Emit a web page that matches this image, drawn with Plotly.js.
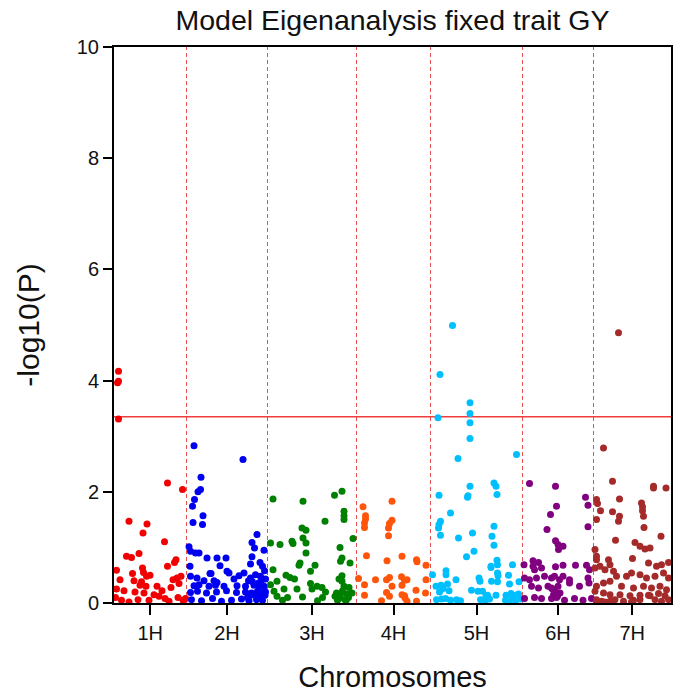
<!DOCTYPE html>
<html>
<head>
<meta charset="utf-8">
<script src="https://cdn.plot.ly/plotly-3.0.1.min.js"></script>
<style>body{margin:0;background:#fff}#plot{width:680px;height:698px}</style>
</head>
<body>
<div id="plot"></div>
<script>
// chromosome names, lengths (cM) and colours
var chromNames = ['1H', '2H', '3H', '4H', '5H', '6H', '7H'];
var chromLen = [145, 162, 178, 148, 184, 142, 155];
var chromColors = ['rgb(240,0,0)', 'rgb(0,0,240)', 'rgb(0,128,0)', 'rgb(255,85,10)',
                   'rgb(0,191,255)', 'rgb(128,0,128)', 'rgb(165,42,42)'];
var threshold = 3.35;

// marker positions (cM within chromosome) and -log10(P)
var pos1H = [9,9,7,9,107,137,30,66,58,101,25,35,50,124,121,107,57,5,37,59,72,65,12,40,55,118,126,134,52,64,114,130,20,5,42,60,80,90,102,128,138,143,15,30,70,110,3,48,86,96];
var lp1H = [4.17,3.99,3.96,3.31,2.16,2.04,1.47,1.42,1.26,1.10,0.84,0.82,0.89,0.78,0.73,0.66,0.63,0.59,0.53,0.55,0.50,0.48,0.42,0.40,0.38,0.42,0.45,0.48,0.32,0.30,0.28,0.35,0.22,0.25,0.20,0.18,0.15,0.12,0.08,0.10,0.05,0.08,0.05,0.02,0.05,0.03,0.10,0.06,0.30,0.22];

var pos2H = [15,113,29,28,23,16,12,33,13,32,141,131,5,8,136,18,25,155,131,41,61,79,7,67,81,85,49,47,128,147,152,21,8,35,55,61,95,105,115,128,138,148,158,15,25,45,58,75,101,118,135,145,155,8,22,40,60,80,100,118,130,142,150,158,10,30,52,70,90,110,125,140,152,122,128,134,140,146,152,157,124,132,144,150,156];
var lp2H = [2.83,2.58,2.26,2.04,2.00,1.86,1.74,1.57,1.45,1.41,1.23,1.09,1.01,0.93,0.99,0.90,0.90,0.95,0.83,0.81,0.81,0.81,0.66,0.67,0.57,0.54,0.53,0.53,0.70,0.73,0.66,0.45,0.48,0.40,0.40,0.37,0.43,0.49,0.54,0.45,0.51,0.48,0.43,0.31,0.33,0.30,0.32,0.30,0.31,0.30,0.32,0.31,0.30,0.19,0.21,0.18,0.20,0.22,0.19,0.20,0.18,0.21,0.19,0.20,0.06,0.04,0.08,0.03,0.05,0.07,0.04,0.06,0.05,0.10,0.14,0.16,0.12,0.15,0.18,0.14,0.40,0.38,0.36,0.41,0.58];

var pos3H = [149,134,11,71,153,153,153,115,69,77,6,25,49,51,71,77,171,145,77,149,146,165,65,63,95,11,86,37,45,54,149,143,19,6,86,99,109,149,153,163,59,33,13,89,116,138,159,169,19,40,70,110,135,162,143,155,140,146,150,157,30,100];
var lp3H = [2.01,1.94,1.87,1.83,1.65,1.57,1.50,1.47,1.35,1.31,1.08,1.05,1.11,1.07,1.17,1.08,1.16,1.00,0.90,0.81,0.75,0.72,0.72,0.68,0.68,0.60,0.57,0.50,0.46,0.43,0.49,0.43,0.39,0.33,0.35,0.30,0.28,0.39,0.30,0.28,0.25,0.25,0.21,0.25,0.20,0.18,0.16,0.18,0.12,0.10,0.11,0.10,0.12,0.10,0.08,0.06,0.05,0.15,0.22,0.04,0.05,0.04];

var pos4H = [71,13,18,18,16,16,71,66,64,64,20,91,61,120,121,139,4,38,60,66,90,96,101,139,16,16,71,91,119,138,60,66,91,96,97,101,120,50];
var lp4H = [1.83,1.73,1.57,1.51,1.44,1.36,1.49,1.43,1.35,1.21,0.85,0.84,0.76,0.78,0.74,0.68,0.44,0.42,0.42,0.46,0.47,0.41,0.42,0.42,0.33,0.14,0.30,0.32,0.23,0.18,0.19,0.12,0.15,0.13,0.09,0.03,0.03,0.04];

var pos5H = [44,19,79,79,15,79,79,172,55,79,127,131,133,17,74,75,40,20,17,16,20,127,56,84,123,127,87,72,133,134,121,121,164,31,31,134,135,4,156,51,97,99,122,134,177,11,21,34,25,37,18,158,82,95,104,114,111,131,151,161,170,176,12,22,30,40,52,60,100,110,118,150,160,170,180];
var lp5H = [4.99,4.11,3.60,3.41,3.33,3.24,2.96,2.67,2.60,2.10,2.16,2.10,1.95,1.94,1.90,1.93,1.62,1.47,1.41,1.35,1.22,1.38,1.17,1.26,1.20,1.04,0.93,0.83,0.77,0.69,0.66,0.64,0.69,0.58,0.51,0.54,0.49,0.51,0.50,0.42,0.45,0.39,0.39,0.38,0.38,0.30,0.32,0.34,0.26,0.22,0.20,0.34,0.23,0.21,0.21,0.14,0.12,0.14,0.14,0.17,0.14,0.16,0.06,0.07,0.08,0.05,0.06,0.04,0.06,0.05,0.07,0.05,0.06,0.04,0.07];

var pos6H = [14,66,126,131,68,56,49,131,66,71,72,81,3,21,32,21,38,24,66,81,106,128,134,4,14,28,44,58,64,74,81,94,131,18,32,51,58,71,94,114,133,4,24,38,58,68,84,104,121,138,62,66,70,75,60];
var lp6H = [2.15,2.10,1.90,1.76,1.74,1.59,1.32,1.37,1.12,1.05,0.96,1.02,0.69,0.76,0.73,0.66,0.63,0.60,0.65,0.68,0.68,0.68,0.60,0.45,0.42,0.45,0.48,0.45,0.48,0.42,0.48,0.42,0.45,0.30,0.27,0.30,0.27,0.30,0.36,0.30,0.36,0.08,0.10,0.08,0.08,0.10,0.05,0.08,0.05,0.08,0.15,0.20,0.12,0.18,0.25];

var pos7H = [50,20,38,120,120,145,52,6,8,14,6,96,98,98,100,101,38,52,50,135,44,83,93,103,113,3,6,6,78,110,126,136,150,30,33,23,40,3,13,66,76,93,106,123,140,150,46,33,20,6,56,80,100,116,133,146,3,20,33,53,73,93,113,130,143,6,16,33,43,60,80,93,110,123,136,150,6,23,76];
var lp7H = [4.86,2.79,2.19,2.10,2.07,2.07,1.87,1.86,1.79,1.66,1.50,1.80,1.73,1.66,1.56,1.36,1.64,1.56,1.47,1.20,1.13,1.09,1.02,0.97,0.99,0.96,0.84,0.78,0.80,0.72,0.66,0.69,0.73,0.78,0.69,0.60,0.57,0.63,0.66,0.48,0.54,0.51,0.45,0.48,0.54,0.45,0.48,0.39,0.36,0.30,0.30,0.27,0.30,0.27,0.30,0.24,0.21,0.18,0.15,0.15,0.13,0.14,0.13,0.17,0.13,0.06,0.03,0.03,0.06,0.03,0.05,0.06,0.14,0.06,0.03,0.06,0.02,0.02,0.02];

var allPos = [pos1H, pos2H, pos3H, pos4H, pos5H, pos6H, pos7H];
var allLp = [lp1H, lp2H, lp3H, lp4H, lp5H, lp6H, lp7H];

// cumulative offsets
var offsets = [];
var total = 0;
for (var i = 0; i < chromLen.length; i++) {
  offsets.push(total);
  total += chromLen[i];
}
var mids = offsets.map(function(o, i) { return o + chromLen[i] / 2; });

var traces = chromNames.map(function(name, i) {
  return {
    type: 'scatter',
    mode: 'markers',
    name: name,
    x: allPos[i].map(function(p) { return p + offsets[i]; }),
    y: allLp[i],
    marker: {color: chromColors[i], size: 7},
    hoverinfo: 'x+y'
  };
});

var shapes = [];
for (var j = 1; j < offsets.length; j++) {
  shapes.push({
    type: 'line', xref: 'x', yref: 'paper',
    x0: offsets[j], x1: offsets[j], y0: 0, y1: 1,
    line: {color: 'rgb(230,80,80)', width: 1, dash: '4px,3px'},
    layer: 'below'
  });
}
shapes.push({
  type: 'line', xref: 'paper', yref: 'y',
  x0: 0, x1: 1, y0: threshold, y1: threshold,
  line: {color: 'rgb(240,60,60)', width: 1.3},
  layer: 'below'
});

var layout = {
  width: 680,
  height: 698,
  margin: {l: 114, r: 9, t: 47, b: 95},
  paper_bgcolor: 'white',
  plot_bgcolor: 'white',
  showlegend: false,
  font: {family: 'Liberation Sans, Arial, sans-serif', color: '#111'},
  title: {
    text: 'Model Eigenanalysis fixed trait GY',
    font: {size: 28.5, color: '#111'},
    x: 0.5, xref: 'paper',
    y: 0.972, yref: 'container', yanchor: 'middle'
  },
  xaxis: {
    range: [0, total],
    tickmode: 'array',
    tickvals: mids,
    ticktext: chromNames,
    ticks: 'outside',
    ticklen: 10,
    tickwidth: 2,
    tickcolor: '#000',
    showline: true,
    linecolor: '#000',
    linewidth: 2,
    mirror: true,
    showgrid: false,
    zeroline: false,
    tickfont: {size: 20},
    ticklabelstandoff: 1,
    title: {text: 'Chromosomes', font: {size: 29}, standoff: 24}
  },
  yaxis: {
    range: [0, 10],
    tickvals: [0, 2, 4, 6, 8, 10],
    ticks: 'outside',
    ticklen: 9,
    tickwidth: 2,
    tickcolor: '#000',
    showline: true,
    linecolor: '#000',
    linewidth: 2,
    mirror: true,
    showgrid: false,
    zeroline: false,
    tickfont: {size: 20},
    title: {text: '-log10(P)', font: {size: 30}, standoff: 28}
  },
  shapes: shapes
};

Plotly.newPlot('plot', traces, layout, {displayModeBar: false, responsive: false});
</script>
</body>
</html>
